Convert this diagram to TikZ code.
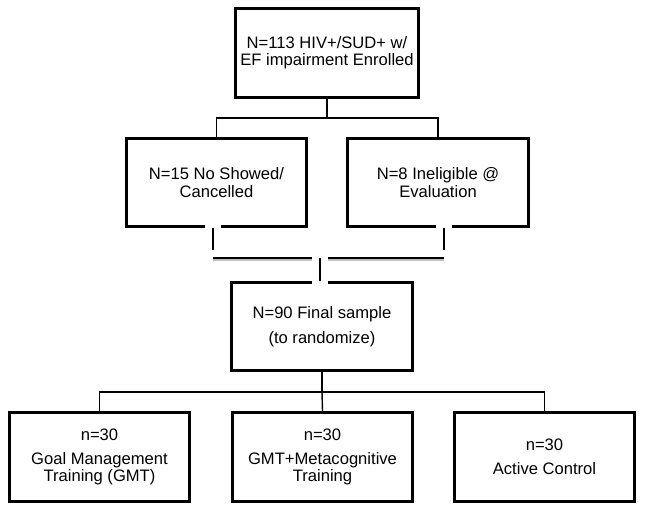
\documentclass[tikz,border=0pt]{standalone}
\usepackage{fontspec}
\setmainfont{Liberation Sans}
\tikzset{
    box/.style={rectangle,draw,line width=2.1pt,minimum width=4.52cm,minimum height=2.22cm,align=center,font=\fontsize{11.8}{12.2}\selectfont},
    link/.style={line width=1pt},
    halo/.style={draw=white,line width=12pt,line cap=rect},
    cut/.style={line width=1.4pt,preaction={halo}},
    shadow/.style={draw=black!25,line width=1.2pt}
}

\begin{document}
\begin{tikzpicture}[x=0.025cm,y=-0.025cm]
                        \useasboundingbox (0,0) rectangle (645,511);
                        % boxes
                            \node[box] (enrolled) at (327,53) {N=113 HIV+/SUD+ w/\\EF impairment Enrolled};
                            \node[box] (noshow) at (216.5,182.5) {N=15 No Showed/\\Cancelled};
                            \node[box] (inelig) at (438,182.5) {N=8 Ineligible @\\Evaluation};
                            \node[box] (final) at (322,326.5) {N=90 Final sample\\[5.5pt](to randomize)};
                            \node[box] (gmt) at (99.5,457) {n=30\\[5pt]Goal Management\\Training (GMT)};
                            \node[box] (meta) at (322.5,457) {n=30\\[5pt]GMT+Metacognitive\\Training};
                            \node[box] (control) at (544.5,457) {n=30\\[5pt]Active Control};
                            \coordinate (topfork) at (327,118);
                            \coordinate (ljoin) at (213,258);
                            \coordinate (rjoin) at (444,258);
                            \coordinate (midfork) at (320,258);
                            \coordinate (botfork) at (322,392);
                        %links
                        \draw[link] (enrolled.south) -- (topfork);
                        \draw[link] (noshow.north) |- (topfork) -| (inelig.north);
                        \draw[cut] (noshow.south -| ljoin) -- ++(0,23);
                        \draw[cut] (inelig.south -| rjoin) -- ++(0,23);
                        \path[halo] (ljoin) -- (rjoin);
                        \draw[shadow] ([yshift=-1.6pt]ljoin) -- ([yshift=-1.6pt]rjoin);
                        \draw[line width=1.4pt] (ljoin) -- (rjoin);
                        \draw[cut] (midfork) -- (midfork |- final.north);
                        \draw[link] (final.south) -- (botfork);
                        \draw[link] (gmt.north) |- (botfork) -| (control.north);
                        \draw[link] (botfork) -- (meta.north);
                        \end{tikzpicture}
\end{document}
